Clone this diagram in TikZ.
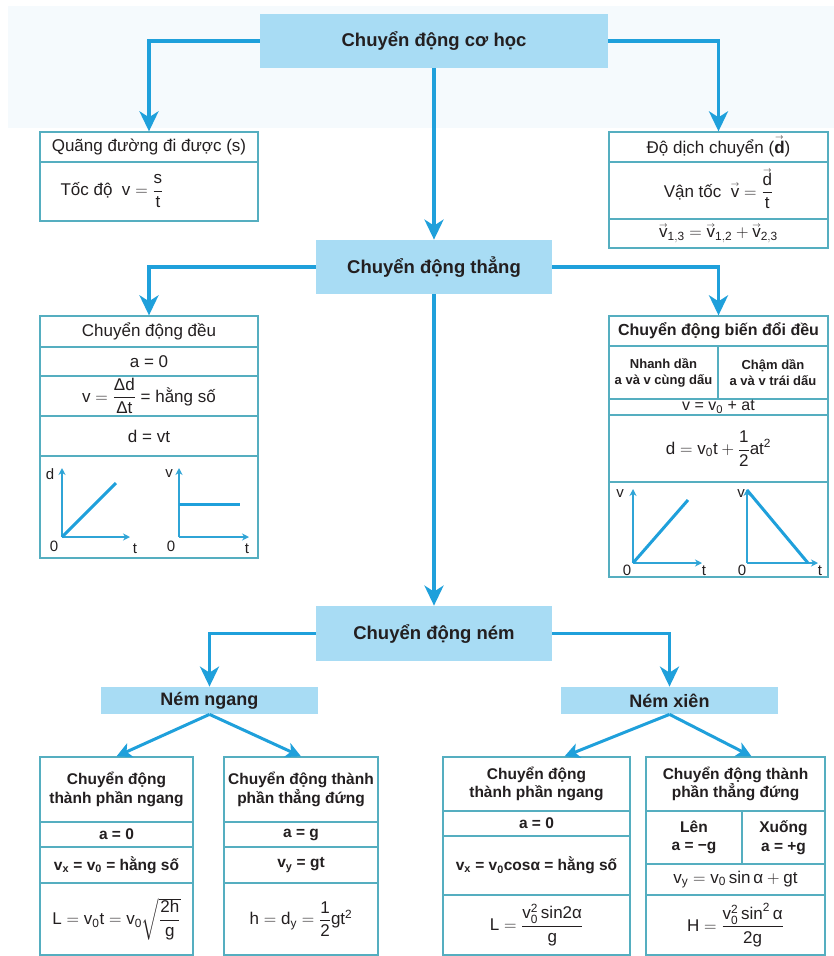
\documentclass[tikz,border=0pt]{standalone}
\usepackage{fontspec}
\usepackage{amsmath}
\setmainfont{Liberation Sans}
\usetikzlibrary{arrows.meta}

\definecolor{boxblue}{HTML}{A8DCF4}
\definecolor{arrblue}{HTML}{1FA0DB}
\definecolor{tblline}{HTML}{55AEC0}
\definecolor{axcol}{HTML}{2FA4D6}
\definecolor{txtdark}{HTML}{231F20}
\definecolor{bgtint}{HTML}{F5FAFD}

\newcommand{\mr}[1]{\mathrm{#1}}
\newcommand{\vv}[2][0.6em]{\text{\ooalign{#2\cr\hidewidth\raisebox{#1}{$\scriptscriptstyle\rightarrow$}\hidewidth\cr}}}

\tikzset{every picture/.style={line width=0.75pt}}
\tikzset{
  mainbox/.style={fill=boxblue, inner sep=0pt, minimum height=54, text=txtdark, font=\bfseries\fontsize{18.5}{21}\selectfont},
  nembox/.style={fill=boxblue, inner sep=0pt, minimum width=217, minimum height=27, text=txtdark, font=\bfseries\fontsize{18}{21}\selectfont},
  tbl/.style={draw=tblline, line width=1.3pt, fill=white, inner sep=0pt},
  tblrule/.style={draw=tblline, line width=1.3pt},
  cell/.style={inner sep=0pt, text=txtdark, align=center, font=\fontsize{17}{20}\selectfont},
  bcell/.style={cell, font=\bfseries\fontsize{15.5}{18.5}\selectfont},
  conn/.style={draw=arrblue, line width=3.5pt, -{Stealth[length=20pt,width=19pt,inset=6pt]}},
  diag/.style={draw=arrblue, line width=3pt, -{Stealth[length=15pt,width=15pt,inset=4pt]}},
  gaxis/.style={draw=axcol, line width=1.5pt, -{Stealth[length=7pt,width=7pt]}},
  gline/.style={draw=arrblue, line width=3pt},
  glab/.style={inner sep=0pt, text=txtdark, font=\fontsize{15}{17}\selectfont},
}

\begin{document}
\begin{tikzpicture}[x=1pt,y=1pt,yscale=-1]
\useasboundingbox (0,0) rectangle (834,956);
\fill[white] (0,0) rectangle (834,956);
\fill[bgtint] (8,6) rectangle (834,128);

%Shape: main boxes
\node[mainbox, minimum width=348] (chcoh) at (434,41) {Chuyển động cơ học};
\node[mainbox, minimum width=236] (ct) at (434,267) {Chuyển động thẳng};
\node[mainbox, minimum width=236, minimum height=55] (cn) at (434,633.5) {Chuyển động ném};
\node[nembox] (nn) at (209.5,700.5) {Ném ngang};
\node[nembox] (nx) at (669.5,700.5) {Ném xiên};

%Shape: table Quang duong
\node[tbl, minimum width=218, minimum height=89] (quang) at (149,176.5) {};
\draw[tblrule] (40,162) -- (258,162);
% Text Node
\node[cell] (quangT) at (149,147) {Quãng đường đi được (s)};
\node[cell] (tocdo) at (112,191) {Tốc độ \ $\mr{v}=\dfrac{\mr{s}}{\mr{t}}$};

%Shape: table Do dich chuyen
\node[tbl, minimum width=219, minimum height=116] (dich) at (718.5,190) {};
\draw[tblrule] (609,162) -- (828,162);
\draw[tblrule] (609,219) -- (828,219);
% Text Node
\node[cell] (dichT) at (718.5,148) {Độ dịch chuyển (\vv[0.78em]{\textbf{d}})};
\node[cell] (vantoc) at (718.5,191) {Vận tốc \ $\vv{v}=\dfrac{\vv[0.78em]{d}}{\mr{t}}$};
\node[cell] (cong) at (718.5,235) {$\vv{v}_{\mr{1,3}}=\vv{v}_{\mr{1,2}}+\vv{v}_{\mr{2,3}}$};

%Shape: table Chuyen dong deu
\node[tbl, minimum width=218, minimum height=242] (deu) at (149,437) {};
\foreach \yy in {347,376,416,456} \draw[tblrule] (40,\yy) -- (258,\yy);
% Text Node
\node[cell] (deuT) at (149,331.5) {Chuyển động đều};
\node[cell] (deuA) at (149,361.5) {a = 0};
\node[cell] (deuV) at (149,396) {$\mr{v}=\dfrac{\text{Δd}}{\text{Δt}}$ = hằng số};
\node[cell] (deuD) at (149,436) {d = vt};
%Straight Lines: graphs
\draw[gaxis] (62,537) -- (62,468);
\draw[gaxis] (62,537) -- (130,537);
\draw[gline] (62,537) -- (116,483);
\node[glab] (g1d) at (50,474) {d};
\node[glab] (g1o) at (54,546) {0};
\node[glab] (g1t) at (135,549) {t};
\draw[gaxis] (179,537) -- (179,468);
\draw[gaxis] (179,537) -- (249,537);
\draw[gline] (179,504) -- (240,504);
\node[glab] (g2v) at (169,474) {v};
\node[glab] (g2o) at (171,546) {0};
\node[glab] (g2t) at (247,549) {t};

%Shape: table Bien doi deu
\node[tbl, minimum width=219, minimum height=261] (bdd) at (718.5,446.5) {};
\foreach \yy in {346,399,415,482} \draw[tblrule] (609,\yy) -- (828,\yy);
\draw[tblrule] (718,346) -- (718,399);
% Text Node
\node[cell, font=\bfseries\fontsize{16}{19}\selectfont] (bddT) at (718.5,331) {Chuyển động biến đổi đều};
\node[cell, font=\bfseries\fontsize{13}{16}\selectfont] (nhanh) at (663.5,372.5) {Nhanh dần\\a và v cùng dấu};
\node[cell, font=\bfseries\fontsize{13}{16}\selectfont] (cham) at (773,372.5) {Chậm dần\\a và v trái dấu};
\node[cell, font=\fontsize{16}{18}\selectfont] (bddV) at (718.5,407) {v = v\textsubscript{0} + at};
\node[cell] (bddD) at (718.5,448.5) {$\mr{d}=\mr{v}_{\mr{0}}\mr{t}+\dfrac{\mr{1}}{\mr{2}}\mr{at}^{\mr{2}}$};
%Straight Lines: graphs
\draw[gaxis] (633,563) -- (633,489);
\draw[gaxis] (633,563) -- (702,563);
\draw[gline] (633,563) -- (688,500);
\node[glab] (g3v) at (620,494) {v};
\node[glab] (g3o) at (627,570) {0};
\node[glab] (g3t) at (704,571) {t};
\draw[gaxis] (747,563) -- (747,489);
\draw[gaxis] (747,563) -- (818,563);
\draw[gline] (747,490) -- (808,563);
\node[glab] (g4v) at (741,494) {v};
\node[glab] (g4o) at (742,570) {0};
\node[glab] (g4t) at (820,571) {t};

%Shape: table Nem ngang 1
\node[tbl, minimum width=153, minimum height=198] (nn1) at (116.5,856) {};
\foreach \yy in {822,847,883} \draw[tblrule] (40,\yy) -- (193,\yy);
\node[bcell] (nn1T) at (116.5,789.5) {Chuyển động\\thành phần ngang};
\node[bcell] (nn1A) at (116.5,834.5) {a = 0};
\node[bcell] (nn1V) at (116.5,865) {v\textsubscript{x} = v\textsubscript{0} = hằng số};
\node[cell] (nn1L) at (116.5,919) {$\mr{L}=\mr{v}_{\mr{0}}\mr{t}=\mr{v}_{\mr{0}}\sqrt{\dfrac{\mr{2h}}{\mr{g}}}$};

%Shape: table Nem ngang 2
\node[tbl, minimum width=154, minimum height=198] (nn2) at (301,856) {};
\foreach \yy in {822,847,883} \draw[tblrule] (224,\yy) -- (378,\yy);
\node[bcell] (nn2T) at (301,789.5) {Chuyển động thành\\phần thẳng đứng};
\node[bcell] (nn2A) at (301,834.5) {a = g};
\node[bcell] (nn2V) at (301,865) {v\textsubscript{y} = gt};
\node[cell] (nn2H) at (301,919) {$\mr{h}=\mr{d}_{\mr{y}}=\dfrac{\mr{1}}{\mr{2}}\mr{gt}^{\mr{2}}$};

%Shape: table Nem xien 1
\node[tbl, minimum width=187, minimum height=198] (nx1) at (536.5,856) {};
\foreach \yy in {811,836,895} \draw[tblrule] (443,\yy) -- (630,\yy);
\node[bcell] (nx1T) at (536.5,784) {Chuyển động\\thành phần ngang};
\node[bcell] (nx1A) at (536.5,823.5) {a = 0};
\node[bcell] (nx1V) at (536.5,865.5) {v\textsubscript{x} = v\textsubscript{0}cosα = hằng số};
\node[cell] (nx1L) at (536.5,925) {$\mr{L}=\dfrac{\mr{v}_{\mr{0}}^{\mr{2}}\,\mr{sin2}\text{α}}{\mr{g}}$};

%Shape: table Nem xien 2
\node[tbl, minimum width=179, minimum height=198] (nx2) at (735.5,856) {};
\foreach \yy in {811,864,895} \draw[tblrule] (646,\yy) -- (825,\yy);
\draw[tblrule] (742,811) -- (742,864);
\node[bcell] (nx2T) at (735.5,784) {Chuyển động thành\\phần thẳng đứng};
\node[bcell] (len) at (694,837.5) {Lên\\a = −g};
\node[bcell] (xuong) at (783.5,837.5) {Xuống\\a = +g};
\node[cell] (nx2V) at (735.5,879.5) {$\mr{v}_{\mr{y}}=\mr{v}_{\mr{0}}\sin\text{α}+\mr{gt}$};
\node[cell] (nx2H) at (735.5,925) {$\mr{H}=\dfrac{\mr{v}_{\mr{0}}^{\mr{2}}\sin^{\mr{2}}\text{α}}{\mr{2g}}$};

%Arrows
\draw[conn] (chcoh.west) -| (quang.north);
\draw[conn] (chcoh.east) -| (dich.north);
\draw[conn] (chcoh.south) -- (ct.north);
\draw[conn] (ct.west) -| (deu.north);
\draw[conn] (ct.east) -| (bdd.north);
\draw[conn] (ct.south) -- (cn.north);
\draw[conn] (cn.west) -| (nn.north);
\draw[conn] (cn.east) -| (nx.north);
\draw[diag] (nn.south) -- (nn1.north);
\draw[diag] (nn.south) -- (nn2.north);
\draw[diag] (nx.south) -- ([xshift=28pt]nx1.north);
\draw[diag] (nx.south) -- ([xshift=16pt]nx2.north);

\end{tikzpicture}
\end{document}
